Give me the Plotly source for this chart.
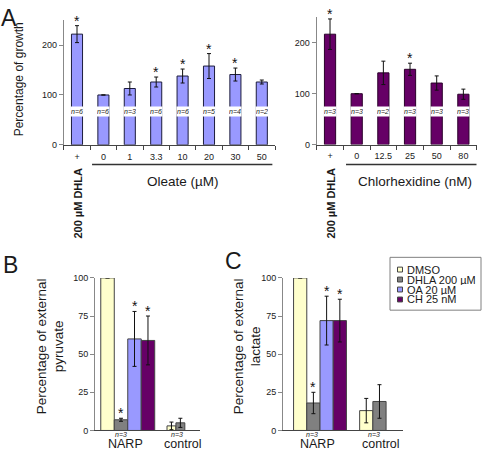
import plotly.graph_objects as go

W, H = 482, 456

# ---------------- data ----------------
oleate_labels = ["+", "0", "1", "3.3", "10", "20", "30", "50"]
oleate_growth = [222, 100, 113, 126, 138, 158, 141, 126]
oleate_err = [17, None, 13, 10, 14, 25, 13, 4]
oleate_n = ["6", "6", "3", "6", "6", "5", "4", "2"]
oleate_sig = [True, False, False, True, True, True, True, False]

chx_labels = ["+", "0", "12.5", "25", "50", "80"]
chx_growth = [217, 100, 141, 148, 121, 99]
chx_err = [30, None, 23, 12, 14, 10]
chx_n = ["3", "3", "2", "3", "3", "3"]
chx_sig = [True, False, False, True, False, False]

series_names = ["DMSO", "DHLA 200 µM", "OA 20 µM", "CH 25 nM"]
series_colors = ["#FFFFCC", "#808080", "#9999FF", "#660066"]
groups = ["NARP", "control"]
group_n = ["3", "3"]

pyruvate_narp = [100, 7, 60, 59]
pyruvate_narp_err = [None, 1, 18, 16]
pyruvate_ctrl = [3, 5]
pyruvate_ctrl_err = [2.5, 3]

lactate_narp = [100, 18, 72, 72]
lactate_narp_err = [None, 7, 16, 14]
lactate_ctrl = [13, 19]
lactate_ctrl_err = [8, 11]

narp_sig = [False, True, True, True]

# ---------------- helpers ----------------
def X(p):
    return p / W

def Y(p):
    return 1 - p / H

TXT = "#1a1a1a"
FONT = "Liberation Sans, Arial, sans-serif"
TITLE_SIZE = 13.5

fig = go.Figure()
ann = []
shapes = []

# ---------------- panel A ----------------
def growth_panel(xa, ya, labels, vals, errs, ns, sigs, color, line_color):
    idx = list(range(len(labels)))
    fig.add_trace(go.Bar(
        x=idx, y=vals, width=0.42, xaxis=xa, yaxis=ya,
        marker=dict(color=color, line=dict(color=line_color, width=1)),
        error_y=dict(type="data", array=errs, color="#111", thickness=1, width=2),
        showlegend=False, hoverinfo="skip"))
    for i, (v, e, n, s) in enumerate(zip(vals, errs, ns, sigs)):
        ann.append(dict(x=i, y=66, xref=xa, yref=ya, text="<i>n=%s</i>" % n,
                        showarrow=False, font=dict(size=7, color=TXT, family=FONT),
                        bgcolor="white", width=12, height=9, borderpad=0,
                        xanchor="center", yanchor="middle"))
        if s:
            top = v + (e or 0)
            ann.append(dict(x=i, y=top, xref=xa, yref=ya, text="*",
                            showarrow=False, font=dict(size=14, color="#111", family=FONT),
                            xanchor="center", yanchor="bottom", yshift=-5))
    # rotated DHLA label
    ann.append(dict(x=0, y=Y(203), xref=xa, yref="paper", text="<b>200 µM DHLA</b>",
                    textangle=-90, showarrow=False, xshift=1,
                    font=dict(size=11, color=TXT, family=FONT),
                    xanchor="center", yanchor="middle"))

growth_panel("x", "y", oleate_labels, oleate_growth, oleate_err, oleate_n, oleate_sig,
             "#9999FF", "#1c1c3c")
growth_panel("x2", "y2", chx_labels, chx_growth, chx_err, chx_n, chx_sig,
             "#660066", "#2a002a")

# underlines and treatment labels
shapes.append(dict(type="line", xref="x", yref="paper", x0=0.57, x1=7.4,
                   y0=Y(163), y1=Y(163), line=dict(color="#333", width=1.5)))
shapes.append(dict(type="line", xref="x2", yref="paper", x0=0.6, x1=5.5,
                   y0=Y(163), y1=Y(163), line=dict(color="#333", width=1.5)))
ann.append(dict(x=4, y=Y(180), xref="x", yref="paper", text="Oleate (µM)",
                showarrow=False, font=dict(size=TITLE_SIZE, color=TXT, family=FONT),
                xanchor="center", yanchor="middle"))
ann.append(dict(x=3.2, y=Y(180), xref="x2", yref="paper", text="Chlorhexidine (nM)",
                showarrow=False, font=dict(size=TITLE_SIZE, color=TXT, family=FONT),
                xanchor="center", yanchor="middle"))

# ---------------- panels B and C ----------------
def metab_panel(xa, ya, narp, narp_err, ctrl, ctrl_err, w_narp, w_ctrl):
    for k, (name, col) in enumerate(zip(series_names, series_colors)):
        xs = [0 + (k - 1.5) * w_narp]
        ys = [narp[k]]
        es = [narp_err[k]]
        ws = [w_narp]
        if k < len(ctrl):
            xs.append(1 + (k - 0.5) * w_ctrl)
            ys.append(ctrl[k])
            es.append(ctrl_err[k])
            ws.append(w_ctrl)
        fig.add_trace(go.Bar(
            x=xs, y=ys, width=ws, xaxis=xa, yaxis=ya, name=name,
            marker=dict(color=col, line=dict(color="#444", width=1)),
            error_y=dict(type="data", array=es, color="#111", thickness=1, width=2),
            showlegend=False, hoverinfo="skip"))
        if narp_sig[k]:
            ann.append(dict(x=xs[0], y=narp[k] + (narp_err[k] or 0), xref=xa, yref=ya,
                            text="*", showarrow=False,
                            font=dict(size=14, color="#111", family=FONT),
                            xanchor="center", yanchor="bottom", yshift=-5))
    offs_n = [-0.15, 1.02]
    offs_g = [-0.05, 1.15]
    for gi, (g, n) in enumerate(zip(groups, group_n)):
        ann.append(dict(x=offs_n[gi], y=Y(439), xref=xa, yref="paper",
                        text="<i>n=%s</i>" % n, showarrow=False,
                        font=dict(size=7, color=TXT, family=FONT),
                        xanchor="center", yanchor="middle"))
        ann.append(dict(x=offs_g[gi], y=Y(449), xref=xa, yref="paper", text=g,
                        showarrow=False, font=dict(size=12.5, color=TXT, family=FONT),
                        xanchor="center", yanchor="middle"))

metab_panel("x3", "y3", pyruvate_narp, pyruvate_narp_err, pyruvate_ctrl,
            pyruvate_ctrl_err, 0.28, 0.185)
metab_panel("x4", "y4", lactate_narp, lactate_narp_err, lactate_ctrl,
            lactate_ctrl_err, 0.25, 0.25)

# ---------------- titles / letters ----------------
for letter, px, py in [("A", -1, -2), ("B", 1, 250), ("C", 223, 246)]:
    ann.append(dict(x=X(px), y=Y(py), xref="paper", yref="paper", text=letter,
                    showarrow=False, font=dict(size=23, color=TXT, family=FONT),
                    xanchor="left", yanchor="top"))

ann.append(dict(x=X(19), y=Y(76), xref="paper", yref="paper",
                text="Percentage of growth", textangle=-90, showarrow=False,
                font=dict(size=12, color=TXT, family=FONT),
                xanchor="center", yanchor="middle"))
ann.append(dict(x=X(50), y=Y(349), xref="paper", yref="paper",
                text="Percentage of external<br>pyruvate", textangle=-90, showarrow=False,
                font=dict(size=TITLE_SIZE, color=TXT, family=FONT),
                xanchor="center", yanchor="middle"))
ann.append(dict(x=X(247), y=Y(349), xref="paper", yref="paper",
                text="Percentage of external<br>lactate", textangle=-90, showarrow=False,
                font=dict(size=TITLE_SIZE, color=TXT, family=FONT),
                xanchor="center", yanchor="middle"))

# ---------------- legend (drawn manually) ----------------
shapes.append(dict(type="rect", xref="paper", yref="paper", x0=X(390), x1=X(481),
                   y0=Y(312), y1=Y(258), line=dict(color="#808080", width=1),
                   fillcolor="white"))
for k, (name, col) in enumerate(zip(series_names, series_colors)):
    cy = 270.5 + 10.2 * k
    shapes.append(dict(type="rect", xref="paper", yref="paper",
                       x0=X(397.5), x1=X(402.5), y0=Y(cy + 2.5), y1=Y(cy - 2.5),
                       line=dict(color="#444", width=1), fillcolor=col))
    ann.append(dict(x=X(405), y=Y(cy), xref="paper", yref="paper", text=name,
                    showarrow=False, font=dict(size=11, color=TXT, family=FONT),
                    xanchor="left", yanchor="middle", height=10))

# ---------------- axes ----------------
yax_common = dict(showline=True, linecolor="#888", linewidth=1, ticks="outside",
                  ticklen=4, tickcolor="#888", showgrid=False, zeroline=False,
                  tickfont=dict(size=9, color=TXT, family=FONT), fixedrange=True)

def cat_xaxis(domain, labels, anchor):
    n = len(labels)
    return dict(domain=domain, range=[-0.5, n - 0.5], anchor=anchor,
                tickmode="array", tickvals=list(range(n)), ticktext=labels,
                ticks="", showline=True, linecolor="#444", linewidth=1,
                showgrid=False, zeroline=False, ticklabelstandoff=3,
                tickfont=dict(size=9, color=TXT, family=FONT),
                minor=dict(tickmode="array", tickvals=[i - 0.5 for i in range(n + 1)],
                           ticks="outside", ticklen=4, tickcolor="#444"))

fig.update_layout(
    width=W, height=H, margin=dict(l=0, r=0, t=0, b=0),
    paper_bgcolor="white", plot_bgcolor="white", showlegend=False,
    barmode="overlay", font=dict(family=FONT, color=TXT),
    xaxis=cat_xaxis([X(63.8), X(275)], oleate_labels, "y"),
    yaxis=dict(domain=[Y(143), Y(15.5)], range=[0, 250], tickvals=[0, 100, 200],
               anchor="x", **yax_common),
    xaxis2=cat_xaxis([X(316.7), X(476.7)], chx_labels, "y2"),
    yaxis2=dict(domain=[Y(142.7), Y(12.7)], range=[0, 250], tickvals=[0, 100, 200],
                anchor="x2", **yax_common),
    xaxis3=dict(domain=[X(95), X(200)], range=[-0.68, 1.5], anchor="y3",
                showticklabels=False, ticks="", showline=True, linecolor="#444",
                showgrid=False, zeroline=False),
    yaxis3=dict(domain=[Y(435), Y(279)], range=[0, 100],
                tickvals=[0, 25, 50, 75, 100], anchor="x3", **yax_common),
    xaxis4=dict(domain=[X(283), X(403)], range=[-0.70, 1.57], anchor="y4",
                showticklabels=False, ticks="", showline=True, linecolor="#444",
                showgrid=False, zeroline=False),
    yaxis4=dict(domain=[Y(435), Y(279)], range=[0, 100],
                tickvals=[0, 25, 50, 75, 100], anchor="x4", **yax_common),
    annotations=ann, shapes=shapes,
)

fig.write_html("out.html", config={"displayModeBar": False, "staticPlot": True},
               post_script="document.body.style.margin='0';document.body.style.overflow='hidden';")
